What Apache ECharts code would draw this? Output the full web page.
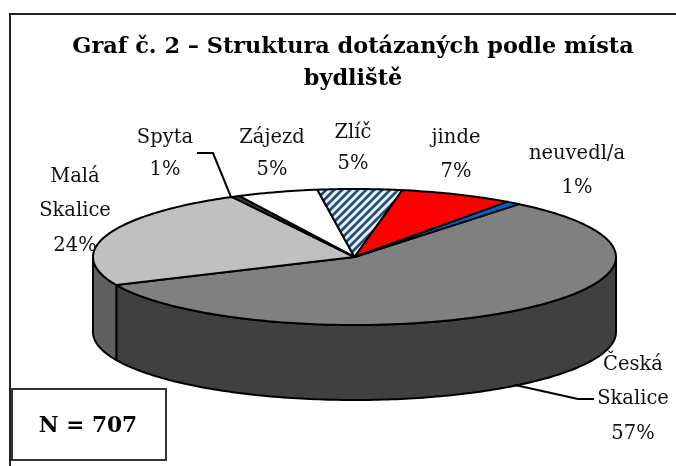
<!DOCTYPE html>
<html><head><meta charset="utf-8">
<style>html,body{margin:0;padding:0;background:#fff}#c{width:676px;height:466px}</style>
<script src="https://cdn.jsdelivr.net/npm/echarts@6/dist/echarts.min.js"></script>
</head><body><div id="c"></div>
<script>
const categories = ['Česká Skalice','Malá Skalice','Spyta','Zájezd','Zlíč','jinde','neuvedl/a'];
const values = [57.4,24,0.5,5,5.2,7,0.9];
const labelLines = [['Česká','Skalice'],['Malá','Skalice'],['Spyta'],['Zájezd'],['Zlíč'],['jinde'],['neuvedl/a']];
const titleText = 'Graf č. 2 – Struktura dotázaných podle místa\nbydliště';
const noteText = 'N = 707';

// Presentation
const topColors = ['#808080','#c0c0c0','#404040','#ffffff','pattern','#ff0000','#0066cc'];
const sideColors = ['#404040','#606060','#202020','#808080','#1f4e79','#800000','#003366'];
const labelAt = [[633,399],[75,211],[165,154],[272,154],[353,148],[456,155],[577,171]];
const labelLH = [34.5,34.5,32,32,31,34,34];
const serif = '"DejaVu Serif"';
const startDeg = 39, cx = 354.5, cy = 257, rx = 261.5, ry = 68, depth = 75;

const patCanvas = document.createElement('canvas');
patCanvas.width = patCanvas.height = 8;
(function(){
  const g = patCanvas.getContext('2d');
  g.fillStyle = '#1f4e79'; g.fillRect(0,0,8,8);
  g.strokeStyle = '#e8eef4'; g.lineWidth = 3;
  [[-8,8,8,-8],[0,8,8,0],[0,16,16,0]].forEach(s=>{g.beginPath();g.moveTo(s[0],s[1]);g.lineTo(s[2],s[3]);g.stroke();});
})();
const pattern = {image: patCanvas, repeat: 'repeat'};

const total = values.reduce((a,b)=>a+b,0);
let acc = startDeg;
const rows = values.map((v,i)=>{ const a = acc; acc += v/total*360; return [a,acc,v,i]; });

const pt = (deg,dy)=>{ const t = deg*Math.PI/180; return [cx+rx*Math.sin(t), cy-ry*Math.cos(t)+(dy||0)]; };
const arc = (a,b,dy)=>{ const n = Math.max(2,Math.ceil(Math.abs(b-a))), out=[]; for(let k=0;k<=n;k++) out.push(pt(a+(b-a)*k/n,dy)); return out; };

function renderItem(params, api){
  const a = api.value(0), b = api.value(1), v = api.value(2), i = api.value(3);
  const children = [];
  const s = Math.max(a,90), e = Math.min(b,270);
  if (e > s) {
    children.push({type:'polygon', shape:{points: arc(s,e,0).concat(arc(e,s,depth))},
      style:{fill:sideColors[i], stroke:'#000', lineWidth:2, lineJoin:'round'}});
  }
  children.push({type:'polygon', shape:{points: [[cx,cy]].concat(arc(a,b,0))},
    style:{fill: topColors[i]==='pattern' ? pattern : topColors[i], stroke:'#000', lineWidth:2, lineJoin:'round'}});
  const lines = labelLines[i].concat([Math.round(v+0.001)+'%']);
  children.push({type:'text', z2:50, style:{text:lines.join('\n'), x:labelAt[i][0], y:labelAt[i][1],
    align:'center', verticalAlign:'middle', fill:'#111', font:'19.5px '+serif, lineHeight:labelLH[i]}});
  return {type:'group', children};
}

const chart = echarts.init(document.getElementById('c'),null,{renderer:'canvas'});
chart.setOption({
  animation:false, backgroundColor:'#fff',
  title:{text:titleText, left:348, top:26, textAlign:'center',
    textStyle:{fontFamily:serif, fontWeight:'bold', fontSize:22.4, color:'#000', lineHeight:32}},
  graphic:[
    {type:'polyline', z:1, shape:{points:[[10,466],[10,14],[676,14]]}, style:{fill:'none',stroke:'#222',lineWidth:2}},
    {type:'rect', z:1, shape:{x:12,y:389,width:154,height:71}, style:{fill:'#fff',stroke:'#333',lineWidth:2}},
    {type:'text', z:5, style:{text:noteText,x:88,y:426,align:'center',verticalAlign:'middle',fill:'#000',font:'bold 21.7px '+serif}},
    {type:'polyline', z:5, shape:{points:[[197,153],[213,153],[231,197]]}, style:{fill:'none',stroke:'#000',lineWidth:2}},
    {type:'polyline', z:5, shape:{points:[[515,385],[578,399],[594,399]]}, style:{fill:'none',stroke:'#000',lineWidth:2}}
  ],
  series:[{type:'custom', coordinateSystem:'none', renderItem, data:rows, silent:true, clip:false}]
});
</script></body></html>
